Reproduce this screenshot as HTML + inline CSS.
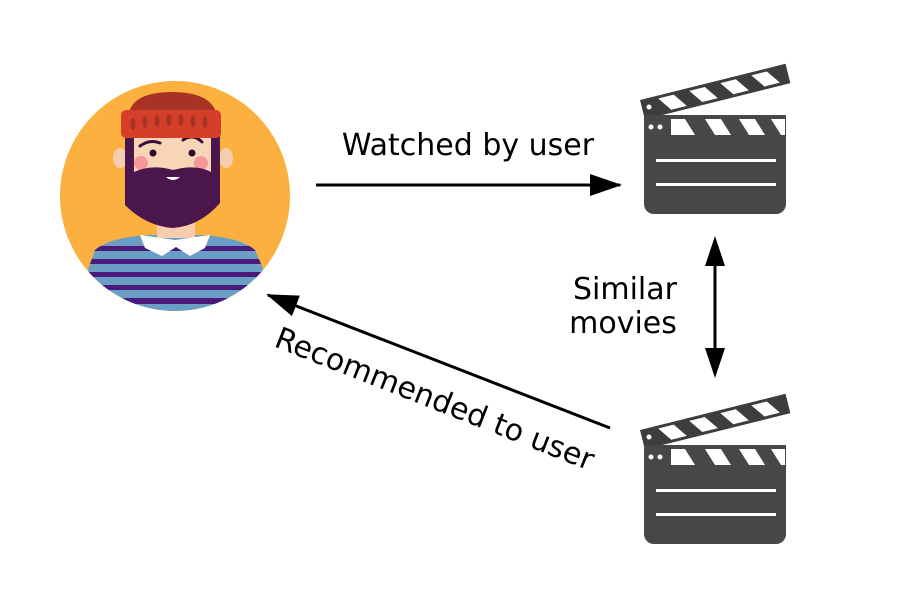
<!DOCTYPE html>
<html><head><style>body{margin:0;background:#fff}svg{display:block}</style></head><body>
<svg width="900" height="600" viewBox="0 0 900 600" xmlns="http://www.w3.org/2000/svg" font-family="DejaVu Sans, Liberation Sans, sans-serif">
<defs>
<clipPath id="c"><circle cx="175" cy="196" r="115"/></clipPath>
<clipPath id="shirt"><path d="M70,320 L95,250 Q110,237 150,235 H200 Q240,237 255,250 L285,320z"/></clipPath>
<marker id="ah" markerWidth="32" markerHeight="22" refX="30" refY="11" orient="auto" markerUnits="userSpaceOnUse" viewBox="0 0 32 22"><path d="M0,0 L32,11 L0,22 z" fill="#000"/></marker>
<g id="clap">
<g transform="rotate(-14 640 100)">
<rect x="640" y="100" width="150" height="20" fill="#3d3d3d"/>
<path d="M658,103 h16 l10,14 h-16z M690,103 h16 l10,14 h-16z M722,103 h16 l10,14 h-16z M754,103 h16 l10,14 h-16z" fill="#fff"/>
</g>
<path d="M644,115 H786 V204 a10,10 0 0 1 -10,10 H654 a10,10 0 0 1 -10,-10z" fill="#474747"/>
<path d="M671,119 h14 l10,16 h-24z M705,119 h16 l10,16 h-16z M739,119 h16 l10,16 h-16z M771,119 h14 v16 h-4z" fill="#fff"/>
<circle cx="651" cy="127" r="2.5" fill="#fff"/><circle cx="660" cy="127" r="2.5" fill="#fff"/>
<circle cx="649" cy="107" r="2.5" fill="#fff"/>
<rect x="656" y="159" width="120" height="3" fill="#fff"/>
<rect x="656" y="183" width="120" height="3" fill="#fff"/>
</g>
</defs>
<circle cx="175" cy="196" r="115" fill="#fbb040"/>
<g clip-path="url(#c)">
<g clip-path="url(#shirt)">
<rect x="60" y="230" width="240" height="90" fill="#6a9ec4"/>
<g fill="#4a1a7a">
<rect x="60" y="246" width="240" height="5"/><rect x="60" y="259" width="240" height="5"/>
<rect x="60" y="272" width="240" height="5"/><rect x="60" y="285" width="240" height="5"/>
<rect x="60" y="298" width="240" height="6"/>
</g>
</g>
</g>
<rect x="157" y="218" width="38" height="20" fill="#f7cdb0"/>
<path d="M140,235 L175,240 L210,235 L205,248 L190,256 L176,247 L162,256 L145,248z" fill="#fff"/>
<ellipse cx="120" cy="158" rx="7" ry="10" fill="#f7cdb0"/>
<ellipse cx="226" cy="158" rx="7" ry="10" fill="#f7cdb0"/>
<rect x="125" y="130" width="95" height="70" fill="#f9d5b8"/>
<circle cx="141" cy="163" r="7" fill="#f4989a"/><circle cx="201" cy="163" r="7" fill="#f4989a"/>
<path d="M125,135 H134 V172 Q152,164 173,170 Q196,164 211,172 V135 H220 V203 Q200,226 173,228 Q146,226 125,205z" fill="#4a164c"/>
<path d="M166,177 Q173,183 180,177z" fill="#fff"/>
<circle cx="153" cy="153" r="3.5" fill="#2a0a2a"/><circle cx="192" cy="153" r="3.5" fill="#2a0a2a"/>
<path d="M140,146 Q150,139 160,143 M183,140 Q193,133 202,142" stroke="#3a0c3a" stroke-width="3" fill="none" stroke-linecap="round"/>
<path d="M129,112 Q135,92 172,92 Q209,92 216,112z" fill="#a83224"/>
<rect x="121" y="110" width="100" height="28" rx="5" fill="#d43f2a"/>
<g fill="#a83224"><ellipse cx="133" cy="124" rx="2.5" ry="6"/><ellipse cx="145" cy="122" rx="2.5" ry="6"/><ellipse cx="157" cy="121" rx="2.5" ry="6"/><ellipse cx="169" cy="120" rx="2.5" ry="6"/><ellipse cx="181" cy="120" rx="2.5" ry="6"/><ellipse cx="193" cy="121" rx="2.5" ry="6"/><ellipse cx="205" cy="122" rx="2.5" ry="6"/></g>
<use href="#clap"/>
<use href="#clap" transform="translate(0,330)"/>
<line x1="316" y1="185" x2="620" y2="185" stroke="#000" stroke-width="3" marker-end="url(#ah)"/>
<line x1="715" y1="250" x2="715" y2="365" stroke="#000" stroke-width="3"/>
<path d="M715,236 L705,266 L725,266z M715,378 L705,348 L725,348z" fill="#000"/>
<line x1="610" y1="428" x2="268" y2="295" stroke="#000" stroke-width="3" marker-end="url(#ah)"/>
<text x="468" y="155" font-size="30" text-anchor="middle">Watched by user</text>
<text x="625" y="299" font-size="30" text-anchor="middle">Similar</text>
<text x="623" y="333" font-size="30" text-anchor="middle">movies</text>
<text x="435" y="409" font-size="30" text-anchor="middle" transform="rotate(21.5 435 398)">Recommended to user</text>
</svg>
</body></html>
